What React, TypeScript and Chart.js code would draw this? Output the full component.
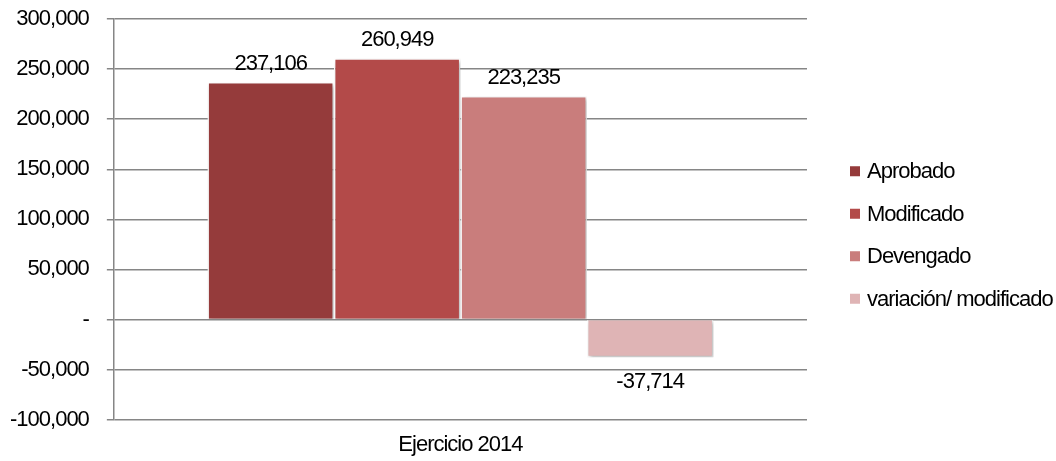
import React, { useEffect, useRef } from "react";
import { Chart, registerables } from "chart.js";

Chart.register(...registerables);

const categories = ["Ejercicio 2014"];
const seriesNames = ["Aprobado", "Modificado", "Devengado", "variación/ modificado"];
const aprobado = [237106];
const modificado = [260949];
const devengado = [223235];
const variacion = [-37714];
const seriesColors = ["#953b3b", "#b34a49", "#c97d7c", "#dfb4b5"];
const yMin = -100000;
const yMax = 300000;
const yStep = 50000;

const FONT = "Liberation Sans, Arial, sans-serif";
const FS = 22;
const LS = "-1px";
const fmt = (v: number) => (v === 0 ? "-" : Math.round(v).toLocaleString("en-US"));

const spacingPlugin = {
  id: "spacing",
  beforeLayout(chart: any) {
    chart.ctx.letterSpacing = LS;
  },
  beforeDraw(chart: any) {
    chart.ctx.letterSpacing = LS;
  },
};

const shadowPlugin = {
  id: "barShadow",
  beforeDatasetsDraw(chart: any) {
    const ctx = chart.ctx;
    ctx.save();
    ctx.shadowColor = "rgba(0,0,0,0.28)";
    ctx.shadowBlur = 4;
    ctx.shadowOffsetX = 2;
    ctx.shadowOffsetY = 2;
  },
  afterDatasetsDraw(chart: any) {
    chart.ctx.restore();
  },
};

const labelPlugin = {
  id: "valueLabels",
  afterDatasetsDraw(chart: any) {
    const ctx = chart.ctx;
    ctx.save();
    ctx.letterSpacing = LS;
    ctx.font = `${FS}px ${FONT}`;
    ctx.fillStyle = "#000";
    ctx.textAlign = "center";
    chart.data.datasets.forEach((ds: any, i: number) => {
      const meta = chart.getDatasetMeta(i);
      meta.data.forEach((el: any, j: number) => {
        const v = ds.data[j];
        if (v >= 0) {
          ctx.textBaseline = "bottom";
          ctx.fillText(fmt(v), el.x, el.y - 7);
        } else {
          ctx.textBaseline = "top";
          ctx.fillText(fmt(v), el.x, el.y + 14);
        }
      });
    });
    ctx.restore();
  },
};

const legendPlugin = {
  id: "sideLegend",
  afterDraw(chart: any) {
    const ctx = chart.ctx;
    ctx.save();
    ctx.letterSpacing = LS;
    ctx.font = `${FS}px ${FONT}`;
    ctx.textAlign = "left";
    ctx.textBaseline = "middle";
    const n = chart.data.datasets.length;
    const gap = 42.5;
    const mid = chart.height / 2 + 4.5;
    const boxX = chart.chartArea.right + 43;
    chart.data.datasets.forEach((ds: any, i: number) => {
      const cy = mid + (i - (n - 1) / 2) * gap;
      ctx.fillStyle = ds.backgroundColor;
      ctx.fillRect(boxX, cy - 5, 10, 10);
      ctx.fillStyle = "#000";
      ctx.fillText(ds.label, boxX + 17, cy + 1);
    });
    ctx.restore();
  },
};

export default function App() {
  const ref = useRef<HTMLCanvasElement | null>(null);
  useEffect(() => {
    document.body.style.margin = "0";
    const series = [aprobado, modificado, devengado, variacion];
    const chart = new Chart(ref.current as HTMLCanvasElement, {
      type: "bar",
      data: {
        labels: categories,
        datasets: series.map((d, i) => ({
          label: seriesNames[i],
          data: d,
          backgroundColor: seriesColors[i],
          borderColor: "#ffffff",
          borderWidth: 1.5,
          barPercentage: 1,
          categoryPercentage: 0.73,
        })),
      },
      options: {
        animation: false,
        responsive: false,
        devicePixelRatio: 1,
        layout: { padding: { left: -8, right: 249, top: 0, bottom: -9 } },
        plugins: { legend: { display: false }, tooltip: { enabled: false } },
        scales: {
          x: {
            grid: { display: false, drawTicks: false },
            border: { display: false },
            ticks: { color: "#000", font: { family: FONT, size: FS }, padding: 12 },
          },
          y: {
            min: yMin,
            max: yMax,
            ticks: {
              stepSize: yStep,
              color: "#000",
              font: { family: FONT, size: FS, lineHeight: 0.1 },
              padding: 18,
              callback: (v: any) => fmt(Number(v)),
            },
            grid: { color: "#868686", lineWidth: 1.5, tickLength: 7 },
            border: { color: "#868686", width: 1.5 },
          },
        },
      },
      plugins: [spacingPlugin, shadowPlugin, labelPlugin, legendPlugin],
    });
    return () => chart.destroy();
  }, []);
  return <canvas ref={ref} width={1056} height={461} style={{ display: "block" }} />;
}
